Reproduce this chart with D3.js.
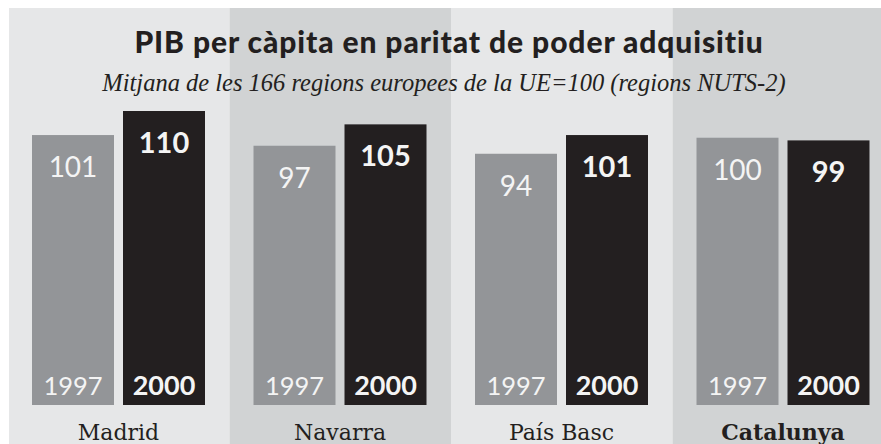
<!DOCTYPE html>
<html>
<head>
<meta charset="utf-8">
<script src="https://cdn.jsdelivr.net/npm/d3@7"></script>
<style>
  body { margin: 0; background: #fff; }
  svg { display: block; }
</style>
</head>
<body>
<div class="chart"></div>
<script>
const regions = ['Madrid', 'Navarra', 'País Basc', 'Catalunya'];
const years = ['1997', '2000'];
const values1997 = [101, 97, 94, 100];
const values2000 = [110, 105, 101, 99];
const highlight = 'Catalunya';

const width = 881, height = 444;
const svg = d3.select('.chart').append('svg')
  .attr('width', width).attr('height', height);

const x = d3.scaleBand().domain(regions).range([8, 8 + 4 * 221.5]);
const xInner = d3.scaleBand().domain(years).range([24, 197]).paddingInner(0.099);
const y = d3.scaleLinear().domain([0, 110]).range([405, 111]);

const rows = regions.map((r, i) => ({region: r, i, vals: [values1997[i], values2000[i]]}));

// background panels
svg.append('g').selectAll('rect').data(rows)
  .join('rect')
  .attr('x', d => Math.max(9, x(d.region)))
  .attr('y', 8)
  .attr('width', d => Math.min(width, x(d.region) + x.bandwidth()) - Math.max(9, x(d.region)))
  .attr('height', height - 8)
  .attr('fill', d => d.i % 2 ? '#d1d3d4' : '#e6e7e8');

// title
svg.append('text')
  .attr('x', 449).attr('y', 53)
  .attr('text-anchor', 'middle')
  .attr('font-family', 'Lato')
  .attr('font-weight', 900)
  .attr('font-size', 30)
  .attr('letter-spacing', 0.9)
  .attr('fill', '#231f20')
  .text('PIB per càpita en paritat de poder adquisitiu');

svg.append('text')
  .attr('x', 444).attr('y', 91)
  .attr('text-anchor', 'middle')
  .attr('font-family', 'Liberation Serif')
  .attr('font-style', 'italic')
  .attr('font-size', 24.5)
  .attr('fill', '#231f20')
  .text('Mitjana de les 166 regions europees de la UE=100 (regions NUTS-2)');

const groups = svg.append('g').selectAll('g').data(rows)
  .join('g')
  .attr('transform', d => `translate(${x(d.region)},0)`);

const bars = groups.selectAll('g').data(d => d.vals.map((v, j) => ({year: years[j], v})))
  .join('g');

bars.append('rect')
  .attr('x', d => xInner(d.year))
  .attr('y', d => y(d.v))
  .attr('width', xInner.bandwidth())
  .attr('height', d => y(0) - y(d.v))
  .attr('fill', d => d.year === '1997' ? '#939598' : '#231f20');

bars.append('text')
  .attr('x', d => xInner(d.year) + xInner.bandwidth() / 2)
  .attr('y', d => y(d.v) + 42)
  .attr('text-anchor', 'middle')
  .attr('font-family', 'Lato')
  .attr('font-weight', d => d.year === '1997' ? 'normal' : 'bold')
  .attr('font-size', d => d.year === '1997' ? 28 : 29)
  .attr('fill', '#f4f4f4')
  .text(d => d.v);

bars.append('text')
  .attr('x', d => xInner(d.year) + xInner.bandwidth() / 2)
  .attr('y', 395)
  .attr('text-anchor', 'middle')
  .attr('font-family', 'Lato')
  .attr('font-weight', d => d.year === '1997' ? 'normal' : 'bold')
  .attr('font-size', d => d.year === '1997' ? 25.5 : 27)
  .attr('fill', '#f4f4f4')
  .text(d => d.year);

groups.append('text')
  .attr('x', (xInner.range()[0] + xInner.range()[1]) / 2)
  .attr('y', 440)
  .attr('text-anchor', 'middle')
  .attr('font-family', 'DejaVu Serif')
  .attr('font-weight', d => d.region === highlight ? 'bold' : 'normal')
  .attr('font-size', 22)
  .attr('fill', '#231f20')
  .text(d => d.region);
</script>
</body>
</html>
